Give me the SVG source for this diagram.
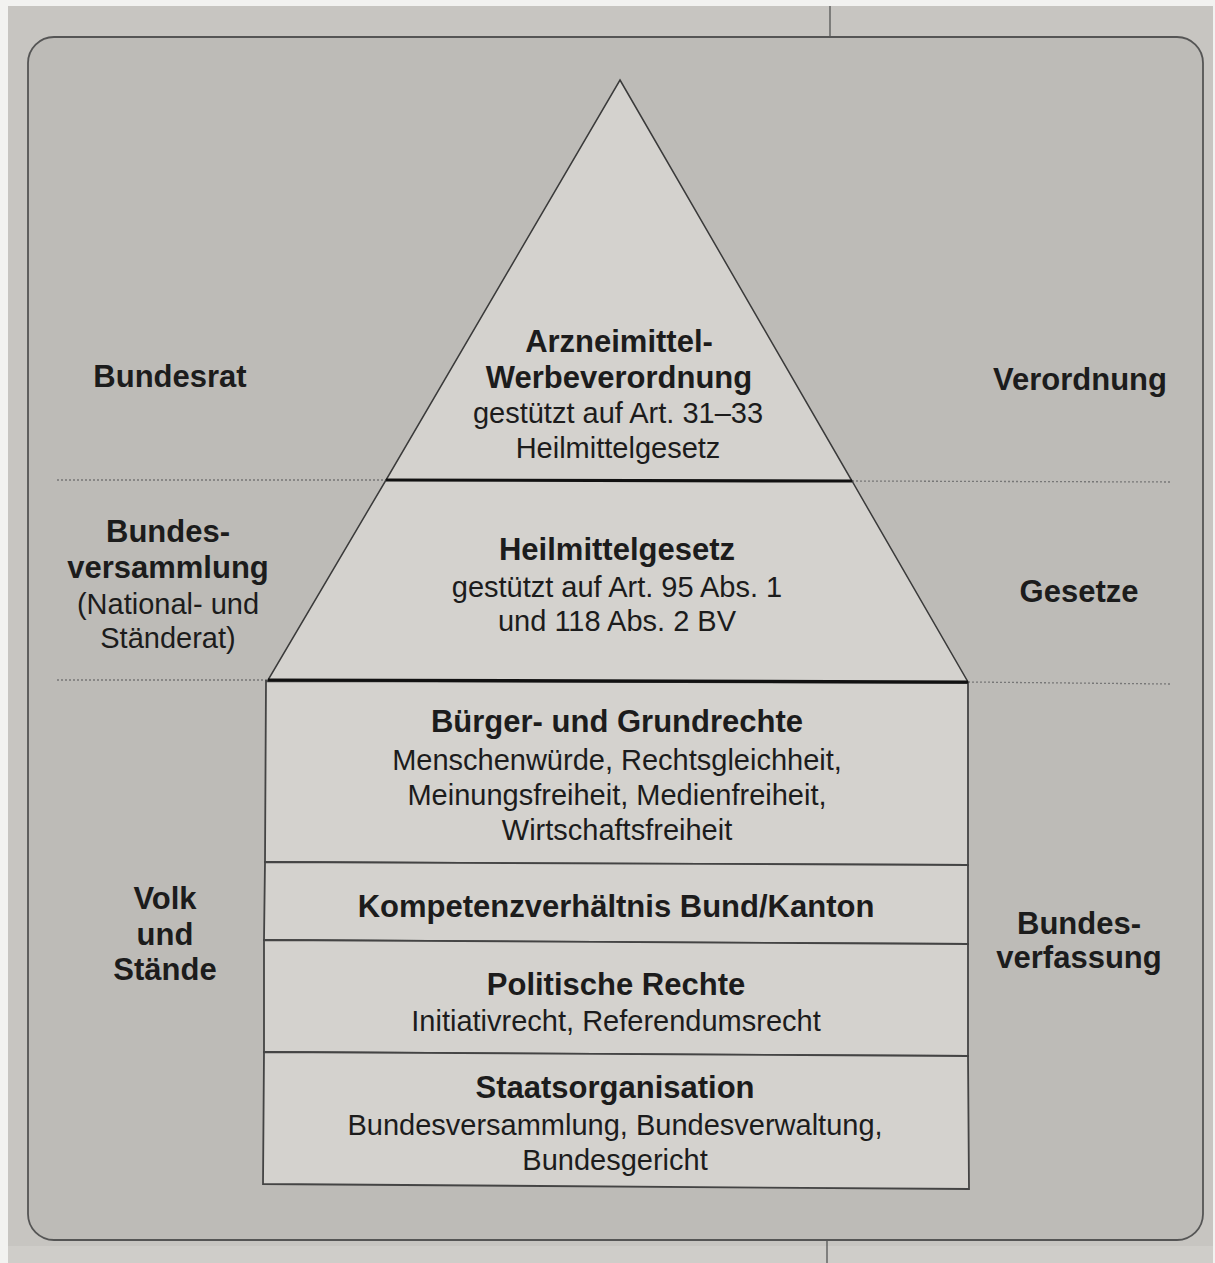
<svg xmlns="http://www.w3.org/2000/svg" width="1215" height="1263" viewBox="0 0 1215 1263">
<style>
text{font-family:"Liberation Sans",Arial,sans-serif;fill:#1c1c1c;text-anchor:middle}
.b{font-weight:bold;font-size:31px}
.r{font-size:29px}
.side{font-weight:bold;font-size:31px}
.tri{fill:#d4d2ce;stroke:#3a3a3a;stroke-width:1.5}
.row{fill:#d4d2ce;stroke:#444;stroke-width:1.8}
.thick{stroke:#111;stroke-width:3.2}
.dot{stroke:#777;stroke-width:1.3;stroke-dasharray:2 2;fill:none}
</style>
<rect x="0" y="0" width="1215" height="1263" fill="#f2f2f0"/>
<rect x="8" y="6" width="1205" height="1257" fill="#c7c5c1"/>
<rect x="8" y="1246" width="1205" height="17" fill="#cfcdc9"/>
<line x1="830" y1="6" x2="830" y2="38" stroke="#555" stroke-width="1.3"/>
<line x1="827" y1="1240" x2="827" y2="1263" stroke="#555" stroke-width="1.3"/>
<rect x="28" y="37" width="1175" height="1203" rx="26" ry="26" fill="#bdbbb7" stroke="#555" stroke-width="1.8"/>
<g id="guides">
<line class="dot" x1="57" y1="480" x2="386" y2="480"/>
<line class="dot" x1="852" y1="481" x2="1170" y2="482"/>
<line class="dot" x1="57" y1="680" x2="268" y2="680"/>
<line class="dot" x1="968" y1="682" x2="1170" y2="684"/>
</g>
<g id="verordnung">
<polygon class="tri" points="620,80 852,481 386,480"/>
<text class="b" x="619" y="352">Arzneimittel-</text>
<text class="b" x="619" y="388">Werbeverordnung</text>
<text class="r" x="618" y="423">gestützt auf Art. 31–33</text>
<text class="r" x="618" y="458">Heilmittelgesetz</text>
</g>
<g id="gesetze">
<polygon class="tri" points="386,480 852,481 968,682 268,680"/>
<text class="b" x="617" y="560">Heilmittelgesetz</text>
<text class="r" x="617" y="597">gestützt auf Art. 95 Abs. 1</text>
<text class="r" x="617" y="631">und 118 Abs. 2 BV</text>
</g>
<g id="grundrechte">
<polygon class="row" points="266,681 968,683 968,865 265,862"/>
<text class="b" x="617" y="732">Bürger- und Grundrechte</text>
<text class="r" x="617" y="770">Menschenwürde, Rechtsgleichheit,</text>
<text class="r" x="617" y="805">Meinungsfreiheit, Medienfreiheit,</text>
<text class="r" x="617" y="840">Wirtschaftsfreiheit</text>
</g>
<g id="kompetenz">
<polygon class="row" points="265,862 968,865 968,944 264,940"/>
<text class="b" x="616" y="917">Kompetenzverhältnis Bund/Kanton</text>
</g>
<g id="politische">
<polygon class="row" points="264,940 968,944 968,1056 264,1052"/>
<text class="b" x="616" y="995">Politische Rechte</text>
<text class="r" x="616" y="1031">Initiativrecht, Referendumsrecht</text>
</g>
<g id="staatsorganisation">
<polygon class="row" points="264,1052 968,1056 969,1189 263,1184"/>
<text class="b" x="615" y="1098">Staatsorganisation</text>
<text class="r" x="615" y="1135">Bundesversammlung, Bundesverwaltung,</text>
<text class="r" x="615" y="1170">Bundesgericht</text>
</g>
<g id="connectors">
<line class="thick" x1="386" y1="480" x2="852" y2="481"/>
<line class="thick" x1="268" y1="680" x2="968" y2="682"/>
</g>
<g id="left-labels">
<text class="side" x="170" y="387">Bundesrat</text>
<text class="side" x="168" y="542">Bundes-</text>
<text class="side" x="168" y="578">versammlung</text>
<text class="r" x="168" y="614">(National- und</text>
<text class="r" x="168" y="648">Ständerat)</text>
<text class="side" x="165" y="909">Volk</text>
<text class="side" x="165" y="945">und</text>
<text class="side" x="165" y="980">Stände</text>
</g>
<g id="right-labels">
<text class="side" x="1080" y="390">Verordnung</text>
<text class="side" x="1079" y="602">Gesetze</text>
<text class="side" x="1079" y="934">Bundes-</text>
<text class="side" x="1079" y="968">verfassung</text>
</g>
</svg>
